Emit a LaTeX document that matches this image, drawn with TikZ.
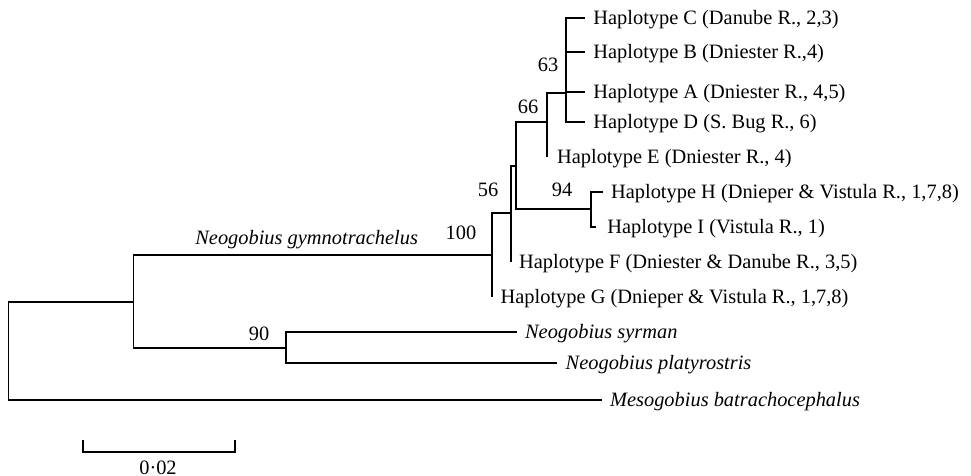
\documentclass[tikz,border=0pt]{standalone}
\usepackage{fontspec}
\setmainfont{Liberation Serif}
\usetikzlibrary{
  positioning,
}
\newcommand\treefont{\fontsize{10.2}{12}\selectfont}
\tikzset{
  branch/.style = {
    line width=0.9pt
  },
  leaf/.style = {
    anchor=west,
    inner xsep=4pt,
    inner ysep=0pt,
    text height=0.66em,
    text depth=0pt,
    font=\treefont
  },
  species/.style = {
    leaf,
    font=\treefont\itshape
  },
  support/.style = {
    anchor=base,
    inner sep=0pt,
    font=\treefont
  },
}

\begin{document}
\begin{tikzpicture}[x=0.5pt, y=-0.5pt]
  \useasboundingbox (0,0) rectangle (971,476);
  %% internal nodes
  \coordinate (root) at (8.5,350);
  \coordinate (n1)   at (133.5,301.7);
  \coordinate (n100) at (492.3,255);
  \coordinate (n90)  at (285.7,348.3);
  \coordinate (n56)  at (510.7,213.3);
  \coordinate (n66h) at (515.7,165.7);
  \coordinate (n66)  at (546.7,121.7);
  \coordinate (n63)  at (566,93.3);
  \coordinate (n94)  at (590.7,209);
  %% leaves
  \node[leaf] (hapC) at (585,18.3)    {Haplotype C (Danube R., 2,3)};
  \node[leaf] (hapB) at (585,51.7)    {Haplotype B (Dniester R.,4)};
  \node[leaf] (hapA) at (585,92.3)    {Haplotype A (Dniester R., 4,5)};
  \node[leaf] (hapD) at (585,121.7)   {Haplotype D (S. Bug R., 6)};
  \node[leaf, inner xsep=5pt] (hapE) at (546.7,157.3) {Haplotype E (Dniester R., 4)};
  \node[leaf] (hapH) at (602.7,191.7) {Haplotype H (Dnieper \& Vistula R., 1,7,8)};
  \node[leaf, inner xsep=5.5pt] (hapI) at (596,226.7) {Haplotype I (Vistula R., 1)};
  \node[leaf] (hapF) at (510.7,261.7) {Haplotype F (Dniester \& Danube R., 3,5)};
  \node[leaf] (hapG) at (492.3,296.7) {Haplotype G (Dnieper \& Vistula R., 1,7,8)};
  \node[species] (syrman) at (516.7,331.7) {Neogobius syrman};
  \node[species] (platy)  at (557.3,363.3) {Neogobius platyrostris};
  \node[species] (meso)   at (601.7,400)   {Mesogobius batrachocephalus};
  %% branches
  \draw[branch] (root) |- (n1) (root) |- (meso);
  \draw[branch] (n1) |- (n100) (n1) |- (n90);
  \draw[branch] (n90) |- (syrman) (n90) |- (platy);
  \draw[branch] (n100) |- (n56) (n100) |- (hapG.west);
  \draw[branch] (n56) |- (n66h) (n56) |- (hapF.west);
  \draw[branch] (n66h) |- (n66) (n66h) |- (n94);
  \draw[branch] (n66) |- (n63) (n66) |- (hapE.west);
  \draw[branch] (n94) |- (hapH) (n94) |- (hapI);
  \draw[branch] (n63) |- (hapC) (n63) |- (hapB) (n63) |- (hapA) (n63) |- (hapD);
  %% support values
  \node[support] (s63)  at (548,71.7)  {63};
  \node[support] (s66)  at (528,113.3) {66};
  \node[support] (s56)  at (488,196.7) {56};
  \node[support] (s94)  at (562,196.7) {94};
  \node[support] (s100) at (461,239.3) {100};
  \node[support] (s90)  at (259,340.7) {90};
  \node[support, font=\treefont\itshape] (gymno) at (306.7,245) {Neogobius gymnotrachelus};
  %% scale bar
  \coordinate (barL) at (83.3,452.3);
  \coordinate (barR) at (235,452.3);
  \draw[branch] (barL) ++(0,-12.3) -- (barL) -- (barR) -- ++(0,-12.3);
  \node[support] (barLabel) at (158,474) {0·02};
\end{tikzpicture}
\end{document}
